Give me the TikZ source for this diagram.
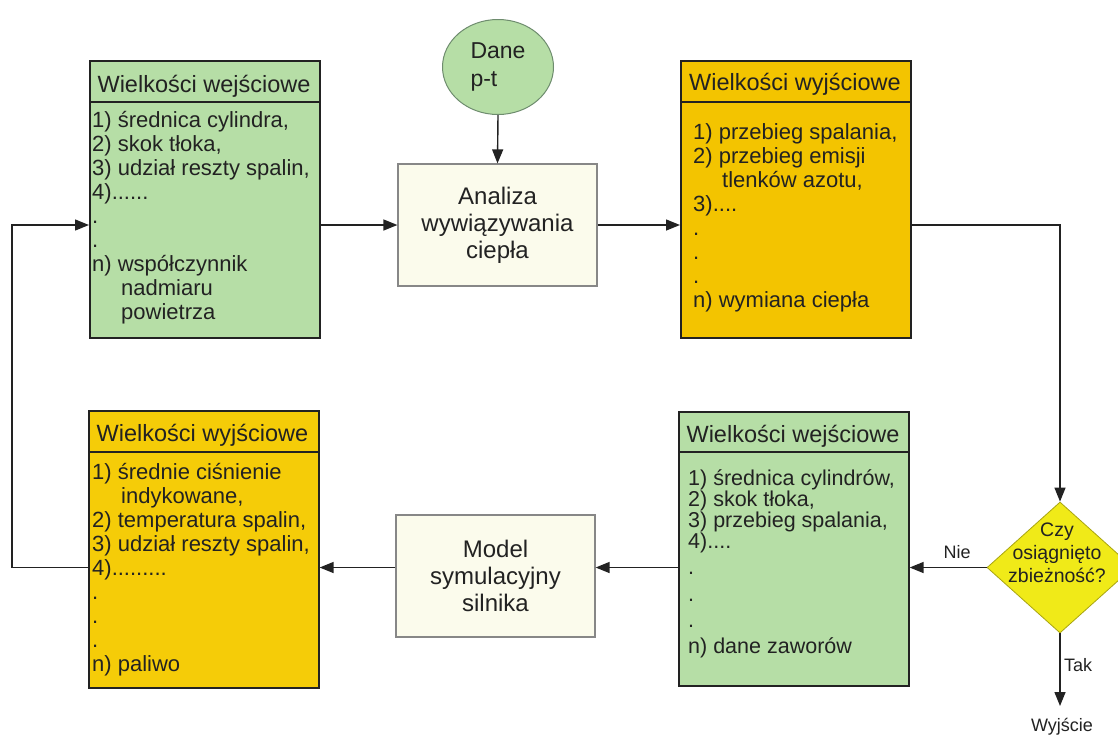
\documentclass[tikz,border=0pt]{standalone}
\usepackage{fontspec}
\setmainfont{Liberation Sans}
\usetikzlibrary{arrows.meta,shapes.geometric}

\definecolor{inputgreen}{RGB}{182,222,166}
\definecolor{outgold}{RGB}{243,196,0}
\definecolor{outgoldB}{RGB}{245,204,8}
\definecolor{decyellow}{RGB}{240,234,24}
\definecolor{procfill}{RGB}{251,251,236}
\definecolor{procline}{RGB}{135,135,135}
\definecolor{ink}{RGB}{34,34,34}
\definecolor{circline}{RGB}{110,140,110}

\begin{document}
\begin{tikzpicture}[x=1pt,y=-1pt,
  every node/.style={text=ink},
  listbox/.style={draw=ink, line width=1.6pt, anchor=north west, inner sep=0pt,
                  minimum width=230pt, minimum height=277pt},
  listhead/.style={anchor=base, inner sep=0pt, font=\fontsize{23.5}{26}\selectfont},
  listbody/.style={anchor=north west, inner sep=0pt, align=left,
                   font=\fontsize{22}{24}\selectfont},
  procbox/.style={draw=procline, fill=procfill, line width=1.2pt,
                  minimum width=199pt, minimum height=122pt, align=center,
                  inner sep=0pt, font=\fontsize{24}{27}\selectfont},
  conn/.style={draw=ink, line width=1.4pt},
  arr/.style={conn, -{Triangle[length=14pt,width=11pt]}},
  small/.style={font=\fontsize{18}{20}\selectfont, inner sep=0pt}
]
\useasboundingbox (0,0) rectangle (1118,740);
\clip (0,0) rectangle (1118,740);

% ---- input data (top left)
\node[listbox, fill=inputgreen] (in1) at (89,60) {};
\draw[conn] ([yshift=-42pt]in1.north west) -- ([yshift=-42pt]in1.north east);
\node[listhead] (in1head) at (204,92) {Wielkości wejściowe};
\node[listbody] (in1body) at (92,111) {1) średnica cylindra,\\
2) skok tłoka,\\
3) udział reszty spalin,\\
4)......\\
.\\
.\\
n) współczynnik\\
\hspace*{29pt}nadmiaru\\
\hspace*{29pt}powietrza};

% ---- heat release analysis
\node[shape=ellipse, draw=circline, fill=inputgreen, line width=1pt,
      minimum width=111pt, minimum height=95pt, inner sep=0pt, align=left,
      font=\fontsize{23}{28}\selectfont] (dane) at (498,67) {Dane\\p-t};
\node[procbox] (ana) at (497.5,225) {Analiza\\wywiązywania\\ciepła};

% ---- output data (top right)
\node[listbox, fill=outgold] (out1) at (680,60) {};
\draw[conn] ([yshift=-42pt]out1.north west) -- ([yshift=-42pt]out1.north east);
\node[listhead] (out1head) at (795,90) {Wielkości wyjściowe};
\node[listbody] (out1body) at (693,123) {1) przebieg spalania,\\
2) przebieg emisji\\
\hspace*{29pt}tlenków azotu,\\
3)....\\
.\\
.\\
.\\
n) wymiana ciepła};

% ---- convergence test
\node[shape=diamond, draw=decyellow!70!black, fill=decyellow, line width=0.8pt,
      minimum width=146pt, minimum height=131pt, inner sep=0pt] (dia) at (1060,567.5) {};
\node[align=center, inner sep=0pt, font=\fontsize{19.5}{23}\selectfont] (diatext)
      at (1057,553) {Czy\\osiągnięto\\zbieżność?};

% ---- input data (bottom right)
\node[listbox, fill=inputgreen, minimum height=274pt] (in2) at (678,411) {};
\draw[conn] ([yshift=-41pt]in2.north west) -- ([yshift=-41pt]in2.north east);
\node[listhead] (in2head) at (793,442) {Wielkości wejściowe};
\node[listbody, font=\fontsize{21.5}{21}\selectfont] (in2body) at (688,469) {1) średnica cylindrów,\\
2) skok tłoka,\\
3) przebieg spalania,\\
4)....\\[5.5pt]
.\\[5.5pt]
.\\[5pt]
.\\[5pt]
n) dane zaworów};

% ---- engine simulation model
\node[procbox] (model) at (495.5,576) {Model\\symulacyjny\\silnika};

% ---- output data (bottom left)
\node[listbox, fill=outgoldB] (out2) at (88,410) {};
\draw[conn] ([yshift=-42pt]out2.north west) -- ([yshift=-42pt]out2.north east);
\node[listhead] (out2head) at (202.5,441) {Wielkości wyjściowe};
\node[listbody] (out2body) at (92,463) {1) średnie ciśnienie\\
\hspace*{29pt}indykowane,\\
2) temperatura spalin,\\
3) udział reszty spalin,\\
4).........\\
.\\
.\\
.\\
n) paliwo};

% ---- connectors
\coordinate (loopB) at (12,567.5);
\coordinate (loopT) at (12,225);
\coordinate (exitend) at (1060,706);

\draw[arr] (dane.south) -- (ana.north);
\draw[arr] (in1.east |- ana.west) -- (ana.west);
\draw[arr] (ana.east) -- (ana.east -| out1.west);
\draw[arr] (ana.east -| out1.east) -- (ana.east -| dia.north) -- (dia.north);
\draw[arr] (dia.west) -- (dia.west -| in2.east);
\draw[arr] (dia.west -| in2.west) -- (dia.west -| model.east);
\draw[arr] (dia.west -| model.west) -- (dia.west -| out2.east);
\draw[arr] (dia.west -| out2.west) -- (loopB) -- (loopT) -- (in1.west |- ana.west);
\draw[arr] (dia.south) -- (exitend);

\node[small] (nie) at (957,552) {Nie};
\node[small] (tak) at (1078,665) {Tak};
\node[small] (wyj) at (1062,727) {Wyjście};
\end{tikzpicture}
\end{document}
